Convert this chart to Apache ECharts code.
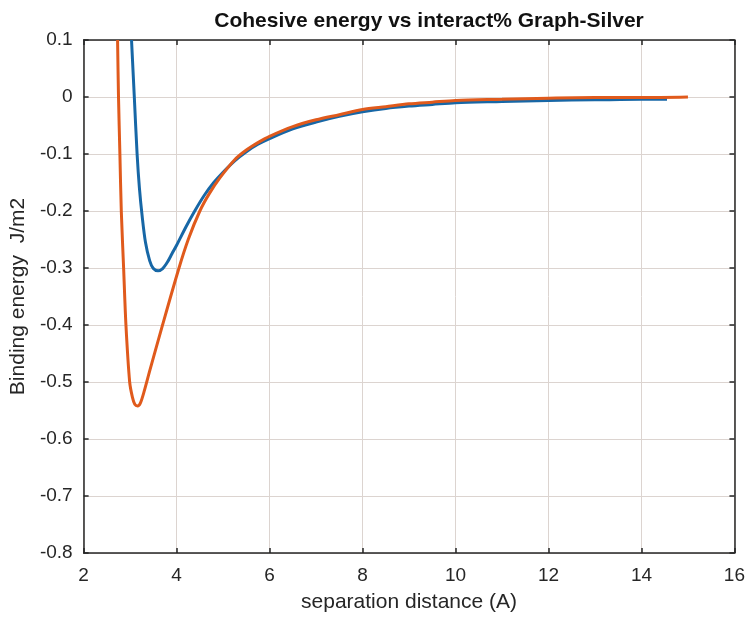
<!DOCTYPE html>
<html>
<head>
<meta charset="utf-8">
<script src="https://cdn.jsdelivr.net/npm/echarts@6/dist/echarts.min.js"></script>
<style>html,body{margin:0;padding:0;background:#fff;}#c{width:748px;height:618px;}</style>
</head>
<body>
<div id="c"></div>
<script>
// blue curve: [separation (A), binding energy J/m2]
const blueX = [3.03, 3.09, 3.15, 3.2, 3.26, 3.33, 3.42, 3.5, 3.6, 3.7, 3.8, 3.9, 4.0, 4.2, 4.39, 4.6, 4.8, 5.0, 5.25, 5.5, 5.75, 6.0, 6.5, 7.0, 7.5, 8.0, 8.5, 9.0, 9.5, 10, 11, 12, 13, 14, 14.55];
const blueY = [0.1, 0.0, -0.1, -0.16, -0.21, -0.255, -0.287, -0.301, -0.305, -0.301, -0.29, -0.275, -0.26, -0.228, -0.2, -0.172, -0.15, -0.132, -0.112, -0.096, -0.083, -0.073, -0.056, -0.044, -0.034, -0.026, -0.02, -0.016, -0.013, -0.01, -0.008, -0.006, -0.005, -0.004, -0.004];
// orange curve
const orangeX = [2.73, 2.75, 2.78, 2.81, 2.86, 2.91, 2.99, 3.05, 3.1, 3.16, 3.22, 3.3, 3.43, 3.68, 4.04, 4.25, 4.5, 4.7, 4.93, 5.25, 5.5, 5.75, 6.0, 6.5, 7.0, 7.5, 8.0, 8.5, 9.0, 9.5, 10, 11, 12, 13, 14, 15];
const orangeY = [0.1, 0.0, -0.1, -0.2, -0.3, -0.4, -0.5, -0.527, -0.539, -0.542, -0.537, -0.517, -0.478, -0.405, -0.303, -0.25, -0.2, -0.17, -0.142, -0.11, -0.093, -0.08, -0.069, -0.052, -0.04, -0.031, -0.022, -0.017, -0.012, -0.009, -0.006, -0.004, -0.002, -0.001, -0.001, 0.0];
const xTicks = [2, 4, 6, 8, 10, 12, 14, 16];
const yTicks = [0.1, 0, -0.1, -0.2, -0.3, -0.4, -0.5, -0.6, -0.7, -0.8];

const chart = echarts.init(document.getElementById('c'));
const FONT = 'Liberation Sans';
const gridCol = '#dcd4d0';
const axisCol = '#262626';
const zip = (xs, ys) => xs.map((x, i) => [x, ys[i]]);
const fmtY = v => String(Number(v.toFixed(1)));
const boxLine = { show: true, onZero: false, lineStyle: { color: axisCol, width: 1.5 } };
const boxTick = { show: true, inside: true, length: 5, lineStyle: { color: axisCol, width: 1.5 } };

chart.setOption({
  animation: false,
  backgroundColor: '#fff',
  title: {
    text: 'Cohesive energy vs interact% Graph-Silver',
    left: 424, top: 6, textAlign: 'center',
    textStyle: { fontFamily: FONT, fontSize: 21, fontWeight: 'bold', color: '#111' }
  },
  grid: { left: 83, right: 11, top: 40, bottom: 64, containLabel: false },
  xAxis: [{
    type: 'value', min: xTicks[0], max: xTicks[xTicks.length - 1], interval: 2,
    name: 'separation distance (A)', nameLocation: 'middle', nameGap: 39,
    nameTextStyle: { fontFamily: FONT, fontSize: 21, color: '#262626' },
    axisLine: boxLine, axisTick: boxTick,
    axisLabel: { fontFamily: FONT, fontSize: 19, color: '#262626', margin: 13 },
    splitLine: { show: true, lineStyle: { color: gridCol, width: 1 } }
  }, {
    type: 'value', position: 'top', min: xTicks[0], max: xTicks[xTicks.length - 1], interval: 2,
    axisLine: boxLine, axisTick: boxTick,
    axisLabel: { show: false }, splitLine: { show: false }
  }],
  yAxis: [{
    type: 'value', min: yTicks[yTicks.length - 1], max: yTicks[0], interval: 0.1,
    name: 'Binding energy  J/m2', nameLocation: 'middle', nameGap: 50, nameRotate: 90,
    nameTextStyle: { fontFamily: FONT, fontSize: 21, color: '#262626' },
    axisLine: boxLine, axisTick: boxTick,
    axisLabel: { fontFamily: FONT, fontSize: 19, color: '#262626', margin: 11, formatter: fmtY },
    splitLine: { show: true, lineStyle: { color: gridCol, width: 1 } }
  }, {
    type: 'value', position: 'right', min: yTicks[yTicks.length - 1], max: yTicks[0], interval: 0.1,
    axisLine: boxLine, axisTick: boxTick,
    axisLabel: { show: false }, splitLine: { show: false }
  }],
  series: [{
    type: 'line', xAxisIndex: 0, yAxisIndex: 0, data: zip(blueX, blueY),
    smooth: 0.3, showSymbol: false, lineStyle: { color: '#1767a6', width: 3 }, z: 3
  }, {
    type: 'line', xAxisIndex: 0, yAxisIndex: 0, data: zip(orangeX, orangeY),
    smooth: 0.3, showSymbol: false, lineStyle: { color: '#e05a1c', width: 3 }, z: 4
  }]
});
</script>
</body>
</html>
